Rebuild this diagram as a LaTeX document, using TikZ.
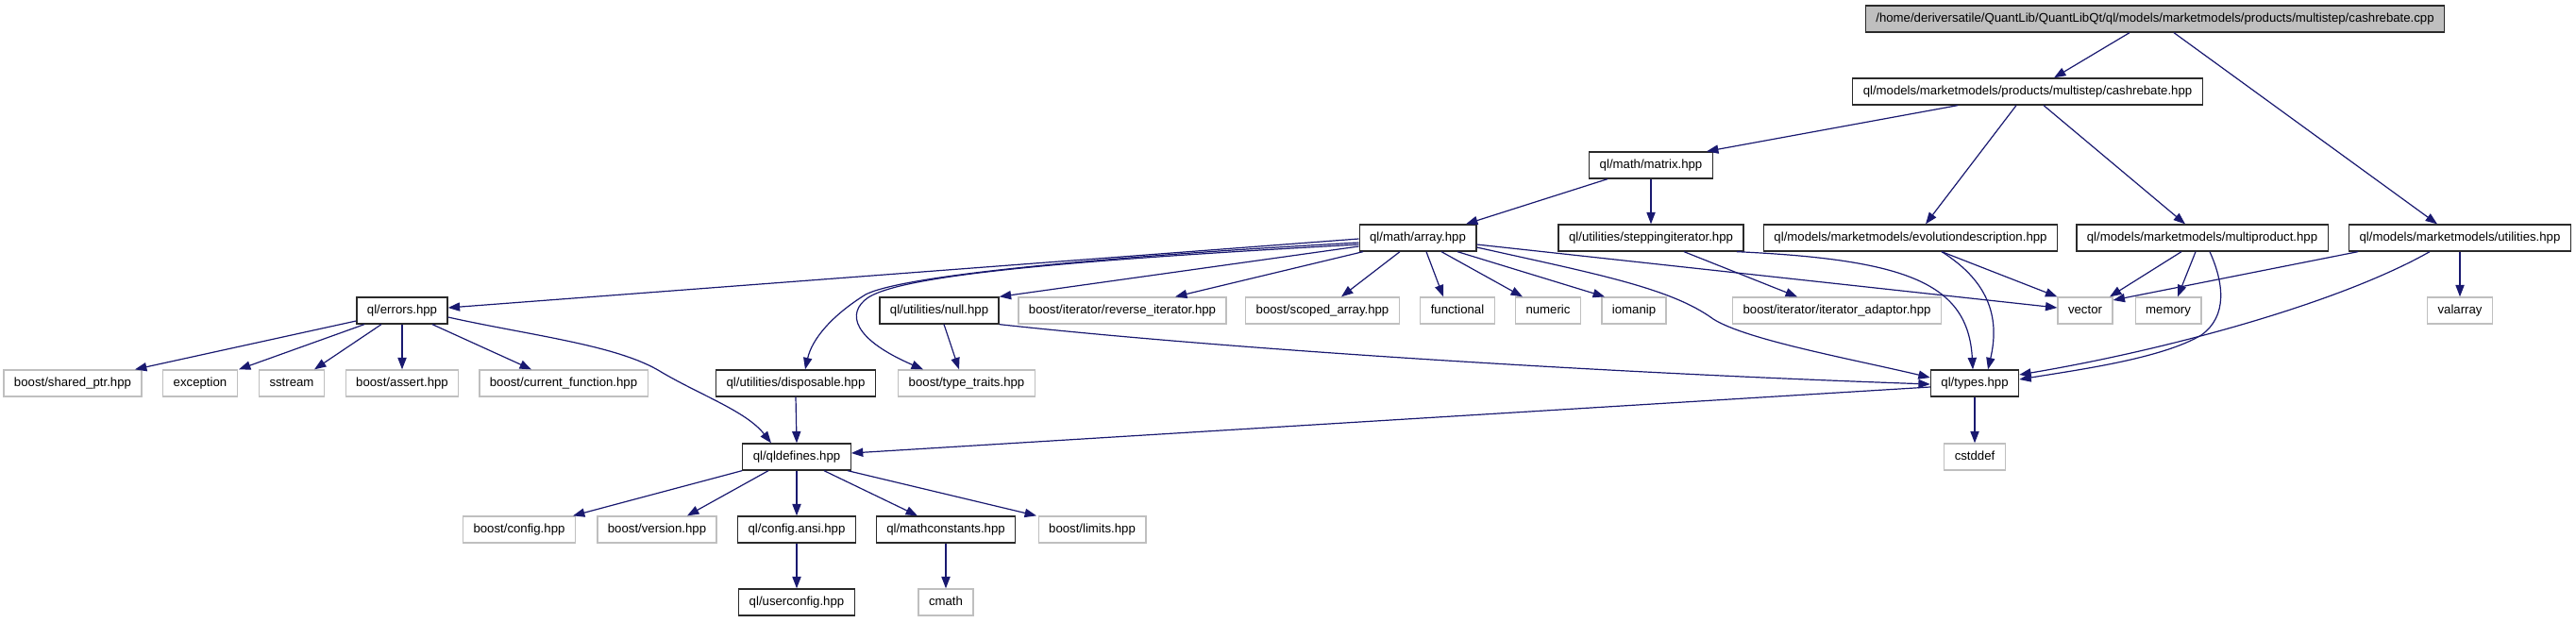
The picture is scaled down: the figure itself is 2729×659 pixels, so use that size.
\documentclass[tikz,border=0pt]{standalone}
\usepackage{fontspec}
\setmainfont{Liberation Sans}
\usetikzlibrary{arrows.meta}
\definecolor{edgeblue}{HTML}{191970}
\definecolor{boxgray}{HTML}{BFBFBF}
\definecolor{boxdark}{HTML}{2A2A2A}
\begin{document}
\begin{tikzpicture}[x=0.5pt,y=-0.5pt,
  base/.style={rectangle, minimum height=14pt, inner xsep=5.5pt, inner ysep=0pt,
    text height=4.9pt, text depth=1.4pt,
    font=\fontsize{6.6}{7}\selectfont, line width=0.65pt, fill=white},
  doc/.style={base, draw=boxdark},
  undoc/.style={base, draw=boxgray},
  rootbox/.style={base, draw=boxdark, fill=boxgray},
  dep/.style={draw=edgeblue, line width=0.6pt, -{Triangle[length=6.2pt,width=4.6pt]}}
]
\useasboundingbox (0,0) rectangle (2729,659);
% row 0
\node[rootbox] (cpp) at (2283,20) {/home/deriversatile/QuantLib/QuantLibQt/ql/models/marketmodels/products/multistep/cashrebate.cpp};
% row 1
\node[doc] (cashhpp) at (2148,97) {ql/models/marketmodels/products/multistep/cashrebate.hpp};
% row 2
\node[doc] (matrix) at (1749,175) {ql/math/matrix.hpp};
% row 3
\node[doc] (array) at (1502,252) {ql/math/array.hpp};
\node[doc] (stepping) at (1749,252) {ql/utilities/steppingiterator.hpp};
\node[doc] (evol) at (2024,252) {ql/models/marketmodels/evolutiondescription.hpp};
\node[doc] (multi) at (2333,252) {ql/models/marketmodels/multiproduct.hpp};
\node[doc] (util) at (2606,252) {ql/models/marketmodels/utilities.hpp};
% row 4
\node[doc] (errors) at (426,329) {ql/errors.hpp};
\node[doc] (null) at (995,329) {ql/utilities/null.hpp};
\node[undoc] (reviter) at (1189,329) {boost/iterator/reverse\_iterator.hpp};
\node[undoc] (scoped) at (1401,329) {boost/scoped\_array.hpp};
\node[undoc] (functional) at (1544,329) {functional};
\node[undoc] (numeric) at (1640,329) {numeric};
\node[undoc] (iomanip) at (1731,329) {iomanip};
\node[undoc] (iteradapt) at (1946,329) {boost/iterator/iterator\_adaptor.hpp};
\node[undoc] (vector) at (2209,329) {vector};
\node[undoc] (memory) at (2297,329) {memory};
\node[undoc] (valarray) at (2606,329) {valarray};
% row 5
\node[undoc] (sharedptr) at (77,406) {boost/shared\_ptr.hpp};
\node[undoc] (exception) at (212,406) {exception};
\node[undoc] (sstream) at (309,406) {sstream};
\node[undoc] (assert) at (426,406) {boost/assert.hpp};
\node[undoc] (curfunc) at (597,406) {boost/current\_function.hpp};
\node[doc] (disposable) at (843,406) {ql/utilities/disposable.hpp};
\node[undoc] (typetraits) at (1024,406) {boost/type\_traits.hpp};
\node[doc] (types) at (2092,406) {ql/types.hpp};
% row 6
\node[doc] (qldefines) at (844,484) {ql/qldefines.hpp};
\node[undoc] (cstddef) at (2092,484) {cstddef};
% row 7
\node[undoc] (config) at (550,561) {boost/config.hpp};
\node[undoc] (version) at (696,561) {boost/version.hpp};
\node[doc] (configansi) at (844,561) {ql/config.ansi.hpp};
\node[doc] (mathconst) at (1002,561) {ql/mathconstants.hpp};
\node[undoc] (limits) at (1157,561) {boost/limits.hpp};
% row 8
\node[doc] (userconfig) at (844,638) {ql/userconfig.hpp};
\node[undoc] (cmath) at (1002,638) {cmath};

% edges
\draw[dep] ([shift={(-27,0)}]cpp.south) -- ([shift={(28,0)}]cashhpp.north);
\draw[dep] ([shift={(20,0)}]cpp.south) -- ([shift={(-24,0)}]util.north);
\draw[dep] ([shift={(-74,0)}]cashhpp.south) -- ([shift={(59,0)}]matrix.north);
\draw[dep] ([shift={(-12,0)}]cashhpp.south) -- ([shift={(16,0)}]evol.north);
\draw[dep] ([shift={(17,0)}]cashhpp.south) -- ([shift={(-18,0)}]multi.north);
\draw[dep] ([shift={(-46,0)}]matrix.south) -- ([shift={(51,0)}]array.north);
\draw[dep] (matrix.south) -- (stepping.north);
\draw[dep] ([shift={(0,1)}]array.west) -- ([shift={(0,-3)}]errors.east);
\draw[dep] ([shift={(0,5)}]array.west) .. controls (1200,270) and (960,290) .. (917,312)
  .. controls (880,335) and (860,360) .. ([shift={(10,0)}]disposable.north);
\draw[dep] ([shift={(0,7)}]array.west) .. controls (1150,275) and (960,290) .. (920,315)
  .. controls (895,332) and (905,360) .. ([shift={(-46,0)}]typetraits.north);
\draw[dep] ([shift={(0,9)}]array.west) -- (null.north east);
\draw[dep] ([shift={(-58,0)}]array.south) -- ([shift={(56,0)}]reviter.north);
\draw[dep] ([shift={(-19,0)}]array.south) -- ([shift={(20,0)}]scoped.north);
\draw[dep] ([shift={(9,0)}]array.south) -- ([shift={(-15,0)}]functional.north);
\draw[dep] ([shift={(25,0)}]array.south) -- ([shift={(-27,0)}]numeric.north);
\draw[dep] ([shift={(42,0)}]array.south) -- ([shift={(-31,0)}]iomanip.north);
\draw[dep] ([shift={(0,7)}]array.east) -- ([shift={(0,-3)}]vector.west);
\draw[dep] ([shift={(0,10)}]array.east) .. controls (1690,290) and (1770,305) .. (1815,338)
  .. controls (1850,360) and (1960,380) .. ([shift={(0,-6)}]types.west);
\draw[dep] ([shift={(35,0)}]stepping.south) -- ([shift={(-42,0)}]iteradapt.north);
\draw[dep] ([shift={(91,0)}]stepping.south) .. controls (2020,275) and (2085,300) .. ([shift={(-2,0)}]types.north);
\draw[dep] ([shift={(33,0)}]evol.south) -- (vector.north west);
\draw[dep] ([shift={(33,0)}]evol.south) .. controls (2110,300) and (2118,340) .. ([shift={(14,0)}]types.north);
\draw[dep] ([shift={(-22,0)}]multi.south) -- ([shift={(26,0)}]vector.north);
\draw[dep] ([shift={(-7,0)}]multi.south) -- ([shift={(10,0)}]memory.north);
\draw[dep] ([shift={(8,0)}]multi.south) .. controls (2356,300) and (2360,335) .. (2332,355)
  .. controls (2290,380) and (2200,392) .. ([shift={(0,-4)}]types.east);
\draw[dep] ([shift={(-108,0)}]util.south) -- ([shift={(0,-11)}]vector.east);
\draw[dep] (util.south) -- (valarray.north);
\draw[dep] ([shift={(-32,0)}]util.south) .. controls (2480,320) and (2300,370) .. ([shift={(0,-9)}]types.east);
\draw[dep] ([shift={(5,0)}]null.south) -- ([shift={(-8,0)}]typetraits.north);
\draw[dep] (null.south east) .. controls (1300,370) and (1700,395) .. ([shift={(0,1)}]types.west);
\draw[dep] (disposable.south) -- (qldefines.north);
\draw[dep] ([shift={(0,11)}]errors.west) -- ([shift={(66,0)}]sharedptr.north);
\draw[dep] ([shift={(-40,0)}]errors.south) -- ([shift={(41,0)}]exception.north);
\draw[dep] ([shift={(-22,0)}]errors.south) -- ([shift={(24,0)}]sstream.north);
\draw[dep] (errors.south) -- (assert.north);
\draw[dep] ([shift={(32,0)}]errors.south) -- ([shift={(-34,0)}]curfunc.north);
\draw[dep] ([shift={(0,7)}]errors.east) .. controls (560,355) and (650,365) .. (697,392)
  .. controls (740,418) and (790,435) .. ([shift={(-27,0)}]qldefines.north);
\draw[dep] ([shift={(0,4)}]types.west) -- ([shift={(0,-4)}]qldefines.east);
\draw[dep] (types.south) -- (cstddef.north);
\draw[dep] (qldefines.south west) -- ([shift={(57,0)}]config.north);
\draw[dep] ([shift={(-30,0)}]qldefines.south) -- ([shift={(32,0)}]version.north);
\draw[dep] (qldefines.south) -- (configansi.north);
\draw[dep] ([shift={(29,0)}]qldefines.south) -- ([shift={(-30,0)}]mathconst.north);
\draw[dep] ([shift={(54,0)}]qldefines.south) -- ([shift={(-59,0)}]limits.north);
\draw[dep] (configansi.south) -- (userconfig.north);
\draw[dep] (mathconst.south) -- (cmath.north);
\end{tikzpicture}
\end{document}
